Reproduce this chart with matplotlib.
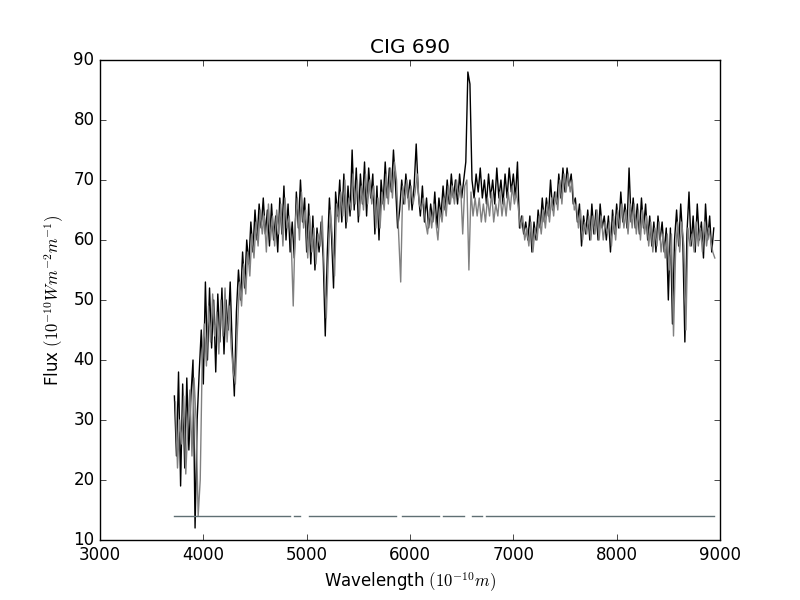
import numpy as np
import matplotlib
matplotlib.use("Agg")
import matplotlib.pyplot as plt

plt.style.use("classic")

# wavelength grids (Angstrom), 20 A step; grey spectrum sampled 10 A later
wave_start = 3720
fit_start = 3730
wave_step = 20

# observed flux (black)
flux_obs = [
    34, 24, 38, 19, 36, 22, 37, 25, 34, 40,
    12, 30, 38, 45, 36, 53, 40, 52, 42, 50,
    38, 51, 43, 52, 41, 50, 45, 53, 42, 34,
    48, 55, 50, 58, 52, 60, 56, 63, 58, 65,
    60, 66, 62, 67, 61, 65, 59, 66, 60, 64,
    58, 67, 61, 69, 60, 66, 58, 63, 57, 68,
    62, 70, 63, 67, 58, 66, 56, 64, 55, 62,
    58, 63, 57, 44, 58, 67, 61, 52, 68, 64,
    70, 63, 71, 62, 69, 64, 75, 65, 72, 63,
    71, 66, 73, 64, 72, 67, 71, 61, 69, 60,
    70, 66, 73, 67, 72, 68, 75, 69, 62, 65,
    70, 66, 71, 67, 70, 65, 69, 76, 68, 64,
    69, 63, 67, 62, 66, 63, 68, 62, 67, 64,
    69, 65, 70, 66, 71, 67, 70, 66, 71, 67,
    70, 73, 88, 86, 70, 67, 71, 68, 72, 67,
    70, 66, 71, 67, 70, 66, 72, 67, 70, 66,
    71, 67, 72, 68, 71, 67, 73, 62, 64, 61,
    63, 60, 64, 58, 63, 60, 65, 62, 67, 63,
    67, 64, 70, 65, 68, 66, 71, 67, 72, 68,
    72, 69, 71, 66, 67, 63, 66, 59, 64, 61,
    65, 60, 66, 61, 65, 60, 66, 62, 64, 60,
    64, 58, 65, 61, 66, 62, 68, 63, 66, 62,
    72, 63, 67, 62, 66, 61, 67, 62, 66, 60,
    64, 59, 63, 58, 64, 60, 63, 58, 62, 50,
    62, 46, 60, 65, 59, 66, 60, 43, 61, 68,
    59, 64, 58, 66, 60, 63, 57, 66, 60, 64,
    58, 62,
]

# second spectrum (grey)
flux_fit = [
    33, 22, 30, 26, 34, 21, 29, 35, 24, 37,
    30, 14, 20, 41, 46, 39, 49, 43, 51, 44,
    48, 41, 50, 44, 52, 43, 49, 42, 38, 36,
    45, 53, 49, 56, 51, 58, 54, 61, 57, 63,
    59, 65, 61, 64, 58, 66, 60, 64, 59, 65,
    61, 66, 59, 67, 62, 64, 60, 49, 63, 67,
    60, 68, 62, 65, 57, 64, 58, 62, 56, 61,
    59, 64, 55, 47, 57, 65, 60, 54, 66, 63,
    68, 64, 70, 63, 67, 65, 71, 66, 70, 64,
    69, 65, 71, 66, 70, 66, 69, 62, 67, 62,
    68, 65, 71, 66, 72, 67, 73, 70, 61, 53,
    69, 66, 70, 65, 69, 66, 68, 71, 66, 65,
    67, 63, 61, 65, 62, 66, 63, 60, 65, 63,
    67, 64, 69, 66, 69, 66, 70, 67, 69, 61,
    69, 70, 55, 68, 64, 67, 64, 67, 63, 66,
    63, 67, 64, 68, 63, 66, 64, 68, 64, 67,
    64, 68, 65, 69, 66, 68, 65, 62, 64, 60,
    62, 59, 63, 58, 62, 60, 64, 61, 65, 62,
    66, 63, 67, 64, 68, 65, 70, 66, 71, 68,
    71, 68, 70, 65, 66, 62, 65, 60, 63, 61,
    64, 60, 64, 61, 65, 60, 64, 60, 63, 61,
    63, 59, 64, 60, 65, 62, 66, 62, 65, 61,
    66, 62, 66, 61, 65, 60, 65, 61, 64, 59,
    63, 58, 62, 59, 63, 58, 61, 57, 61, 55,
    61, 44, 58, 63, 58, 63, 59, 45, 62, 59,
    61, 58, 63, 59, 62, 58, 63, 59, 62, 60,
    58, 57,
]

# flat level line under the spectra, with gaps (Angstrom ranges)
base_level = 14
base_gaps = [(4850, 4870), (4950, 5010), (5870, 5910), (6290, 6310),
             (6530, 6590), (6710, 6730)]

wave = wave_start + wave_step * np.arange(len(flux_obs))
wave_fit = fit_start + wave_step * np.arange(len(flux_fit))
base = np.full(len(wave), float(base_level))
for lo, hi in base_gaps:
    base[(wave >= lo) & (wave <= hi)] = np.nan

fig = plt.figure(figsize=(8, 6), facecolor="white")
ax = fig.add_subplot(111)
ax.plot(wave, flux_obs, color="black", lw=1.0)
ax.plot(wave_fit, flux_fit, color="#808080", lw=1.0)
ax.plot(wave, base, color="#5f6f73", lw=1.0)

ax.set_xlim(3000, 9000)
ax.set_ylim(10, 90)
ax.set_title("CIG 690")
ax.set_xlabel(r"Wavelength $(10^{-10}m)$")
ax.set_ylabel(r"Flux $(10^{-10}Wm^{-2}m^{-1})$")

fig.savefig("out.png", dpi=100, facecolor="white")
